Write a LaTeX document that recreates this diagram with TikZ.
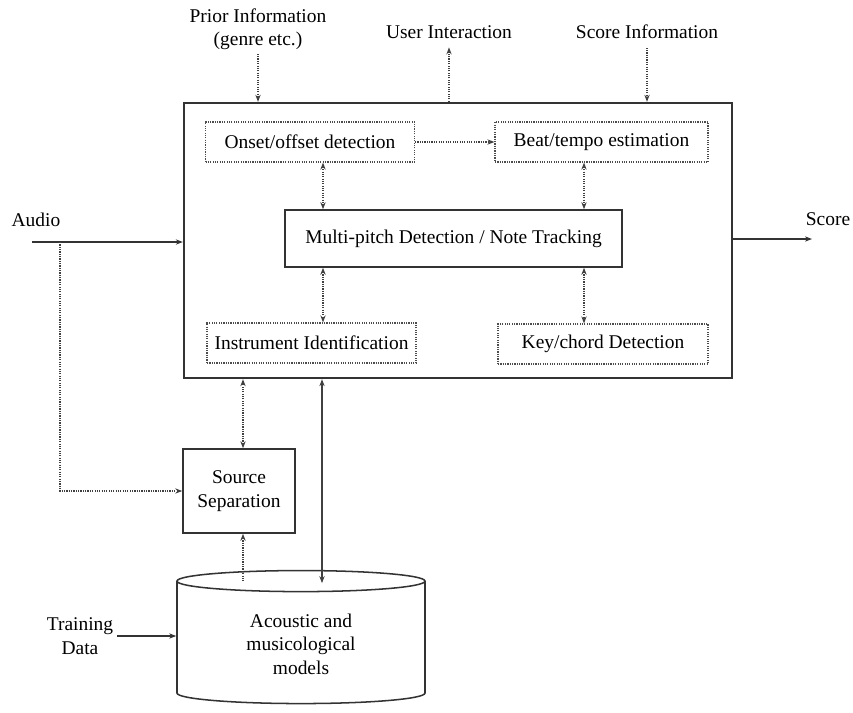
\documentclass[tikz,border=0pt]{standalone}
\usepackage{fontspec}
\setmainfont{Liberation Serif}
\usetikzlibrary{arrows.meta,shapes.geometric}

\tikzset{
  subtask/.style={draw=black!70, densely dotted, line width=1pt, minimum width=62.7mm, minimum height=12mm},
  solidbox/.style={draw=black!80, line width=1.3pt},
  dotlink/.style={densely dotted, line width=1pt, draw=black!75},
  sollink/.style={line width=1pt, draw=black!80}
}

\begin{document}
\begin{tikzpicture}[x=0.3mm, y=-0.3mm, >={Stealth[length=6pt,width=4.5pt]},
  font=\fontsize{16.6}{20}\selectfont, align=center]
  \useasboundingbox (0,0) rectangle (853,712);

  % main block and its sub-tasks
  \node (main) [solidbox, line width=2pt, minimum width=164.4mm, minimum height=82.5mm] at (458,240.5) {};
  \node (onset) [subtask] at (310,142) {Onset/offset detection};
  \node (beat) [subtask, minimum width=63.9mm] at (601.5,142) {Beat/tempo estimation};
  \node (mp) [solidbox, minimum width=101.1mm, minimum height=17.1mm] at (453.5,238.5) {Multi-pitch Detection / Note Tracking};
  \node (inst) [subtask] at (311.5,343) {Instrument Identification};
  \node (key) [subtask, minimum width=63mm] at (603,344) {Key/chord Detection};

  % outside inputs and outputs
  \node (prior) at (258,29) {Prior Information\\(genre etc.)};
  \node (user) at (449,32) {User Interaction};
  \node (scoreinfo) at (647,32) {Score Information};
  \node (audio) at (36,220) {Audio};
  \node (score) at (828,219) {Score};
  \node (source) [solidbox, minimum width=33.6mm, minimum height=25.2mm] at (239,491) {Source\\Separation};
  \node (models) [cylinder, shape border rotate=90, aspect=0.18, draw=black!80, line width=1.3pt,
    minimum width=74.4mm, minimum height=39.9mm] at (301,644) {Acoustic and\\musicological\\models};
  \node (train) at (80,636) {Training\\Data};

  \coordinate (lcol) at (323,0);
  \coordinate (rcol) at (584,0);
  \coordinate (ain) at (32,242);
  \coordinate (abr) at (60,242);
  \coordinate (sout) at (812,239);

  % arrows on top
  \draw[->, dotlink] (prior.south) -- (prior.south |- main.north);
  \draw[->, dotlink, shorten >=4pt] (user.south |- main.north) -- (user.south);
  \draw[->, dotlink, shorten <=4pt] (scoreinfo.south) -- (scoreinfo.south |- main.north);

  % links inside the main block
  \draw[->, dotlink] (onset.east) -- (beat.west);
  \draw[<->, dotlink] (onset.south -| lcol) -- (mp.north -| lcol);
  \draw[<->, dotlink] (beat.south -| rcol) -- (mp.north -| rcol);
  \draw[<->, dotlink] (mp.south -| lcol) -- (inst.north -| lcol);
  \draw[<->, dotlink] (mp.south -| rcol) -- (key.north -| rcol);

  % audio in, score out
  \draw[->, sollink] (ain) -- (ain -| main.west);
  \draw[->, dotlink] (abr) |- (source.west);
  \draw[->, sollink] (main.east |- sout) -- (sout);

  % lower part
  \draw[<->, dotlink] ([xshift=1.2mm]source.north) -- ([xshift=1.2mm]source.north |- main.south);
  \draw[<-, dotlink] ([xshift=1.2mm]source.south) -- ([xshift=1.2mm, yshift=-3.3mm]source.south |- models.north);
  \draw[<->, line width=1.6pt, draw=black!75] ([xshift=6.3mm]models.north |- main.south) -- ([xshift=6.3mm, yshift=-4mm]models.north);
  \draw[->, sollink] (train.east) -- (models.west |- train.east);
\end{tikzpicture}
\end{document}
